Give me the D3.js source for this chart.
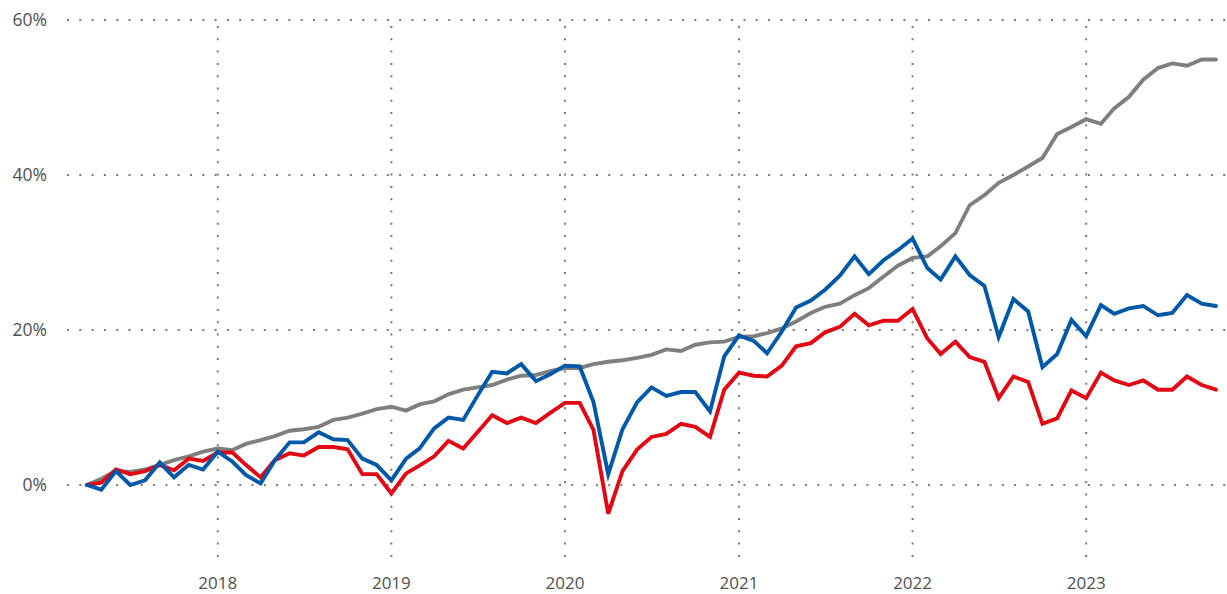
<!DOCTYPE html>
<html>
<head>
<meta charset="utf-8">
<script src="https://cdn.jsdelivr.net/npm/d3@7"></script>
<style>
  body { margin: 0; background: #fff; }
  svg { display: block; }
</style>
</head>
<body>
<div id="chart"></div>
<script>
const months = d3.timeMonth.range(new Date(2017, 3, 1), new Date(2023, 10, 1));

const greySeries = [
  0, 0.8, 1.8, 1.7, 2.0, 2.6, 3.2, 3.7, 4.3,
  4.7, 4.5, 5.3, 5.8, 6.3, 7.0, 7.2, 7.5, 8.4, 8.7, 9.2, 9.8,
  10.1, 9.6, 10.4, 10.8, 11.7, 12.3, 12.6, 12.9, 13.6, 14.1, 14.2, 14.7,
  15.1, 15.1, 15.6, 15.9, 16.1, 16.4, 16.8, 17.5, 17.3, 18.1, 18.4, 18.5,
  19.1, 19.2, 19.6, 20.2, 21.1, 22.2, 23.0, 23.4, 24.5, 25.4, 26.9, 28.3,
  29.3, 29.5, 30.8, 32.5, 36.1, 37.4, 39.0, 40.0, 41.1, 42.2, 45.3, 46.2,
  47.2, 46.6, 48.6, 50.1, 52.3, 53.8, 54.4, 54.1, 54.9, 54.9
];

const redSeries = [
  0, 0.3, 2.0, 1.4, 1.8, 2.6, 1.9, 3.4, 3.1,
  4.2, 4.2, 2.6, 1.0, 3.2, 4.1, 3.8, 4.9, 4.9, 4.6, 1.4, 1.4,
  -1.1, 1.5, 2.5, 3.7, 5.7, 4.7, 6.8, 9.0, 8.0, 8.7, 8.0, 9.3,
  10.6, 10.6, 7.1, -3.7, 1.8, 4.6, 6.2, 6.6, 7.9, 7.5, 6.2, 12.3,
  14.5, 14.1, 14.0, 15.4, 17.9, 18.3, 19.7, 20.4, 22.1, 20.6, 21.2, 21.2,
  22.7, 18.9, 16.9, 18.5, 16.5, 15.9, 11.2, 14.0, 13.3, 7.9, 8.6, 12.2,
  11.2, 14.5, 13.5, 12.9, 13.5, 12.3, 12.3, 14.0, 12.9, 12.3
];

const blueSeries = [
  0, -0.6, 1.8, 0.0, 0.6, 2.9, 1.0, 2.6, 2.0,
  4.3, 3.0, 1.3, 0.2, 3.2, 5.5, 5.5, 6.8, 5.9, 5.8, 3.4, 2.6,
  0.6, 3.4, 4.7, 7.3, 8.7, 8.4, 11.5, 14.6, 14.4, 15.6, 13.4, 14.3,
  15.4, 15.3, 10.7, 1.4, 7.2, 10.7, 12.6, 11.5, 12.0, 12.0, 9.5, 16.6,
  19.3, 18.6, 17.0, 19.8, 22.9, 23.8, 25.2, 27.0, 29.5, 27.2, 29.0, 30.3,
  31.8, 28.0, 26.5, 29.5, 27.1, 25.7, 19.1, 24.0, 22.4, 15.2, 16.9, 21.3,
  19.2, 23.2, 22.1, 22.8, 23.1, 21.9, 22.2, 24.5, 23.4, 23.1
];

const yTicks = [0, 20, 40, 60];
const yearTicks = [2018, 2019, 2020, 2021, 2022, 2023];

const width = 1227, height = 594;

const svg = d3.select('#chart')
  .append('svg')
  .attr('width', width)
  .attr('height', height)
  .attr('viewBox', `0 0 ${width} ${height}`)
  .attr('font-family', "'Open Sans', 'Noto Sans', sans-serif");

const x = d3.scaleTime()
  .domain([months[0], months[months.length - 1]])
  .range([87, 1216]);

const y = d3.scaleLinear()
  .domain([0, 60])
  .range([485, 20]);

// dotted grid
const grid = svg.append('g')
  .attr('stroke', '#7a7a7a')
  .attr('stroke-width', 2)
  .attr('stroke-dasharray', '2 10.3');

grid.selectAll('.h')
  .data(yTicks)
  .join('line')
  .attr('x1', 67)
  .attr('x2', width)
  .attr('y1', d => y(d))
  .attr('y2', d => y(d));

grid.selectAll('.v')
  .data(yearTicks)
  .join('line')
  .attr('x1', d => x(new Date(d, 0, 1)))
  .attr('x2', d => x(new Date(d, 0, 1)))
  .attr('y1', y(60) + 6)
  .attr('y2', 567);

// axis labels
svg.append('g')
  .selectAll('text')
  .data(yTicks)
  .join('text')
  .attr('x', 47)
  .attr('y', d => y(d))
  .attr('dy', '0.35em')
  .attr('text-anchor', 'end')
  .attr('font-size', 17.5)
  .attr('fill', '#505050')
  .text(d => d + '%');

svg.append('g')
  .selectAll('text')
  .data(yearTicks)
  .join('text')
  .attr('x', d => x(new Date(d, 0, 1)))
  .attr('y', 583)
  .attr('dy', '0.35em')
  .attr('text-anchor', 'middle')
  .attr('font-size', 17)
  .attr('fill', '#505050')
  .text(d => d);

// lines: grey underneath, blue on top
const line = d3.line()
  .x((d, i) => x(months[i]))
  .y(d => y(d));

const series = [
  { values: greySeries, color: '#7f7f7f' },
  { values: redSeries, color: '#e30613' },
  { values: blueSeries, color: '#0058a8' }
];

svg.append('g')
  .selectAll('path')
  .data(series)
  .join('path')
  .attr('d', d => line(d.values))
  .attr('fill', 'none')
  .attr('stroke', d => d.color)
  .attr('stroke-width', 3.9)
  .attr('stroke-linejoin', 'miter')
  .attr('stroke-linecap', 'round');
</script>
</body>
</html>
